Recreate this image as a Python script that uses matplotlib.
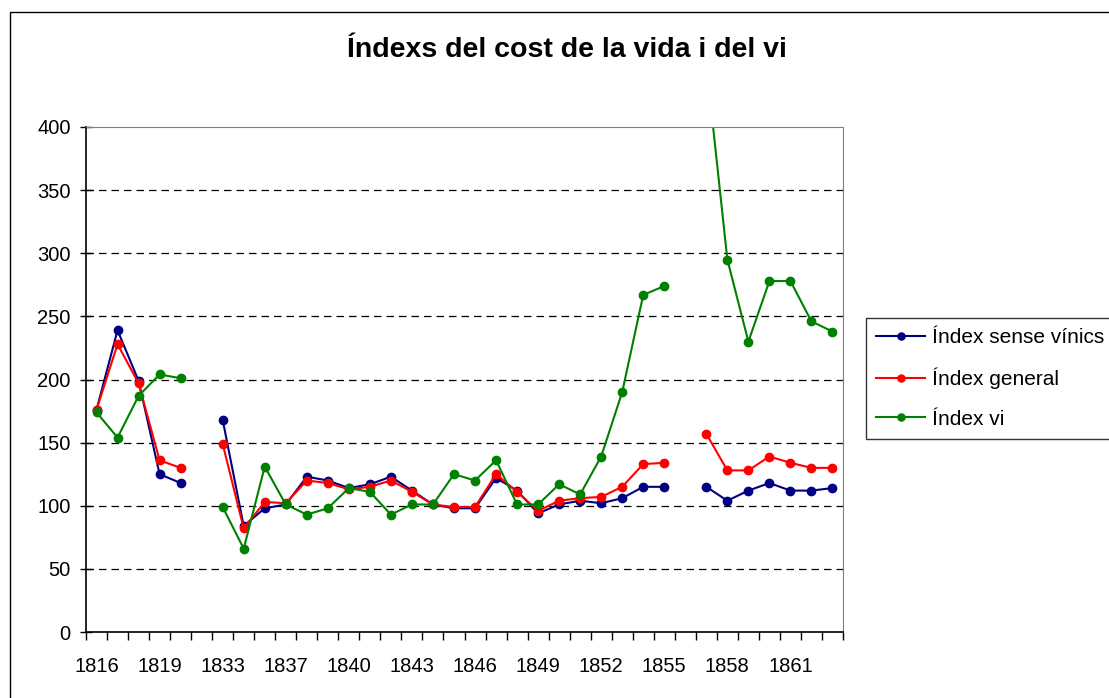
import numpy as np
import matplotlib.pyplot as plt
from matplotlib.patches import Rectangle

plt.rcParams['font.family'] = ['Liberation Sans', 'DejaVu Sans']

nan = np.nan

# categories (one per data row; only every third label is shown)
anys = ['1816', '1817', '1818', '1819', '1820', '1821', '1833', '1834', '1835',
        '1837', '1838', '1839', '1840', '1841', '1842', '1843', '1844', '1845',
        '1846', '1847', '1848', '1849', '1850', '1851', '1852', '1853', '1854',
        '1855', '1856', '1857', '1858', '1859', '1860', '1861', '1862', '1863']

sense_vinics = [176, 239, 199, 125, 118, nan, 168, 84, 98,
                101, 123, 120, 114, 117, 123, 112, 101, 98,
                98, 122, 112, 94, 101, 104, 102, 106, 115,
                115, nan, 115, 104, 112, 118, 112, 112, 114]

general = [176, 228, 197, 136, 130, nan, 149, 82, 103,
           102, 120, 118, 113, 115, 120, 111, 101, 99,
           99, 125, 111, 96, 104, 106, 107, 115, 133,
           134, nan, 157, 128, 128, 139, 134, 130, 130]

vi = [174, 154, 187, 204, 201, nan, 99, 66, 131,
      101, 93, 98, 114, 111, 93, 101, 101, 125,
      120, 136, 101, 101, 117, 109, 139, 190, 267,
      274, nan, 450, 295, 230, 278, 278, 246, 238]

noms = ['Índex sense vínics', 'Índex general', 'Índex vi']
colors = ['#000080', '#FF0000', '#008000']

fig = plt.figure(figsize=(11.09, 6.98), dpi=100)
ax = fig.add_axes([86/1109, 66/698, 757/1109, 505/698])

x = np.arange(len(anys))
for serie, nom, c in zip([sense_vinics, general, vi], noms, colors):
    ax.plot(x, serie, color=c, lw=1.5, marker='o', ms=6, label=nom)

ax.set_xlim(-0.5, len(anys) - 0.5)
ax.set_ylim(0, 400)
ax.set_yticks(range(0, 401, 50))
for v in range(50, 400, 50):
    ax.axhline(v, color='black', lw=0.9, ls=(0, (6, 4)), zorder=0)

ax.set_xticks(np.arange(-0.5, len(anys), 1))
ax.set_xticklabels([])
ax.set_xticks(x[::3], minor=True)
ax.set_xticklabels(anys[::3], minor=True)
ax.tick_params(axis='x', which='major', length=6, direction='out', width=1)
ax.tick_params(axis='x', which='minor', length=0, pad=18, labelsize=14.5)
ax.tick_params(axis='y', length=8, direction='inout', width=1, labelsize=14.5, pad=7)

for s in ['top', 'right']:
    ax.spines[s].set_color('#808080')
for s in ['left', 'bottom']:
    ax.spines[s].set_color('black')
    ax.spines[s].set_linewidth(1.2)

fig.text(567/1109, 1 - 50/698, 'Índexs del cost de la vida i del vi',
         ha='center', va='center', fontsize=20.5, fontweight='bold')

leg = ax.legend(loc='upper left', bbox_to_anchor=(866/1109, 1 - 318/698),
                bbox_transform=fig.transFigure, fontsize=15, frameon=True,
                fancybox=False, edgecolor='black', handlelength=2.35,
                handletextpad=0.3, labelspacing=0.98, borderpad=0.5,
                borderaxespad=0, markerscale=0.85)
leg.get_frame().set_linewidth(1)

fig.add_artist(Rectangle((10/1109, -0.1), 1.2, 1 - 12/698 + 0.1,
                         transform=fig.transFigure, fill=False,
                         edgecolor='black', lw=1))

fig.savefig('out.png', dpi=100)
